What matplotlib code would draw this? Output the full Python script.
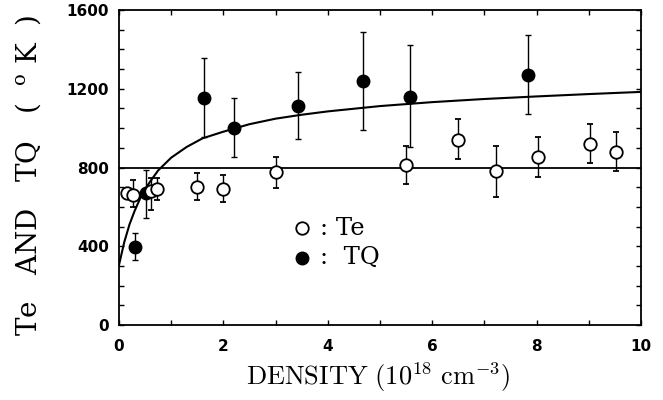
import matplotlib
matplotlib.use("Agg")
import matplotlib.pyplot as plt
from matplotlib.ticker import MultipleLocator

# ---- data ----
te_x = [0.15, 0.27, 0.62, 0.72, 1.5, 2.0, 3.0, 5.5, 6.5, 7.22, 8.02, 9.02, 9.52]
te_y = [669, 660, 680, 690, 700, 692, 775, 812, 940, 780, 854, 920, 880]
te_lo = [0, 60, 96, 55, 65, 66, 81, 98, 99, 129, 101, 99, 98]
te_hi = [0, 76, 66, 56, 73, 69, 79, 98, 104, 130, 99, 100, 100]

tq_x = [0.31, 0.52, 1.63, 2.21, 3.42, 4.68, 5.57, 7.84]
tq_y = [398, 669, 1154, 1003, 1112, 1239, 1159, 1269]
tq_lo = [68, 127, 198, 149, 169, 249, 254, 198]
tq_hi = [67, 118, 200, 151, 174, 249, 262, 203]

curve_x = [0.0, 0.1, 0.2, 0.3, 0.4, 0.5, 0.6, 0.75, 1.0, 1.3, 1.6, 2.0, 2.5,
           3.0, 3.5, 4.0, 5.0, 6.0, 7.0, 8.0, 9.0, 10.0]
curve_y = [305, 420, 510, 580, 640, 690, 730, 785, 850, 905, 948, 982, 1020,
           1048, 1068, 1085, 1112, 1132, 1148, 1161, 1173, 1184]

ref_level = 800

x_ticks = [0, 2, 4, 6, 8, 10]
y_ticks = [0, 400, 800, 1200, 1600]

legend_labels = [": Te", ":  TQ"]

fig = plt.figure(figsize=(6.63, 4.0), dpi=100)
ax = fig.add_axes([119/663, 75/400, (641-119)/663, 315/400])

ax.plot(curve_x, curve_y, color="black", lw=1.5, zorder=2)
ax.axhline(ref_level, color="black", lw=1.3, zorder=2)

ax.errorbar(tq_x, tq_y, yerr=[tq_lo, tq_hi], fmt="o", color="black",
            ms=9, elinewidth=1.0, capsize=2.5, capthick=1.0, zorder=3)
ax.errorbar(te_x, te_y, yerr=[te_lo, te_hi], fmt="o", color="black",
            mfc="white", mec="black", mew=1.3,
            ms=9, elinewidth=1.0, capsize=2.5, capthick=1.0, zorder=4)

ax.set_xlim(0, 10)
ax.set_ylim(0, 1600)
ax.set_xticks(x_ticks)
ax.set_yticks(y_ticks)
ax.xaxis.set_minor_locator(MultipleLocator(1))
ax.yaxis.set_minor_locator(MultipleLocator(100))
ax.tick_params(which="both", direction="in", top=True, right=True,
               length=3.5, width=1.0)
ax.tick_params(axis="both", which="major", labelsize=11, pad=7)
for lab in ax.get_xticklabels() + ax.get_yticklabels():
    lab.set_fontweight("bold")
ax.tick_params(axis="x", pad=10)
for s in ax.spines.values():
    s.set_linewidth(1.3)

# legend drawn as markers + text
ax.plot([3.5], [491], "o", mfc="white", mec="black", mew=1.3, ms=9)
ax.plot([3.5], [342], "o", color="black", ms=9)
ax.text(3.85, 491, legend_labels[0], fontsize=17.5, family="DejaVu Serif",
        va="center", ha="left")
ax.text(3.85, 342, legend_labels[1], fontsize=17.5, family="DejaVu Serif",
        va="center", ha="left")

ax.set_ylabel(r"Te   AND   TQ   (  $^{\mathrm{o}}$ K  )", fontsize=20,
              family="DejaVu Serif", math_fontfamily="dejavuserif")
ax.yaxis.set_label_coords(-0.146, 0.476)

ax.set_xlabel(r"$\mathrm{DENSITY\ (10^{18}\ cm^{-3})}$", fontsize=19,
              math_fontfamily="cm")
ax.xaxis.set_label_coords(0.496, -0.112)

fig.savefig("out.png", dpi=100)
